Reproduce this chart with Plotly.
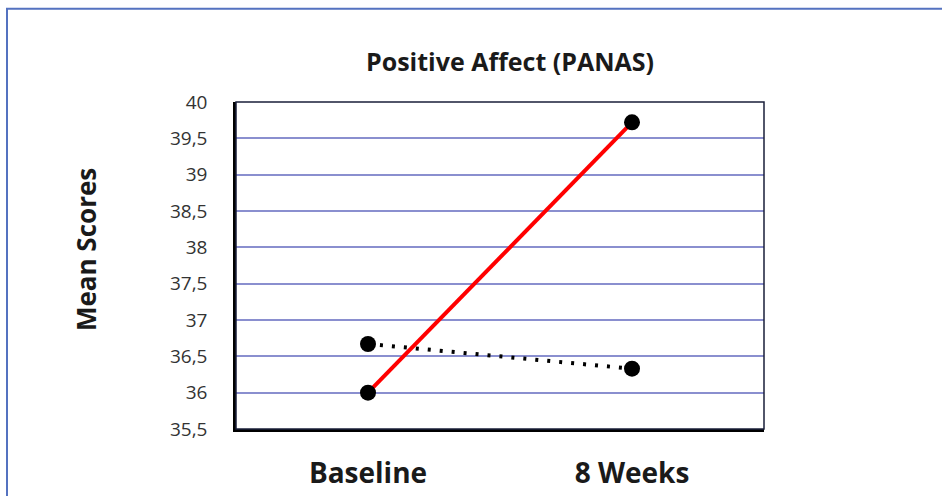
import plotly.graph_objects as go

categories = ["Baseline", "8 Weeks"]
series_a = [36.0, 39.72]   # red solid
series_b = [36.67, 36.33]  # black dotted
y_ticks = [35.5, 36, 36.5, 37, 37.5, 38, 38.5, 39, 39.5, 40]
y_tick_labels = ["35,5", "36", "36,5", "37", "37,5", "38", "38,5", "39", "39,5", "40"]

FONT = "Open Sans"

fig = go.Figure()
fig.add_trace(go.Scatter(
    x=categories, y=series_b, mode="lines+markers",
    line=dict(color="black", width=4, dash="3px,9px"),
    marker=dict(color="black", size=16),
    showlegend=False, cliponaxis=False))
fig.add_trace(go.Scatter(
    x=categories, y=series_a, mode="lines+markers",
    line=dict(color="#ff0000", width=4),
    marker=dict(color="black", size=16),
    showlegend=False, cliponaxis=False))

L, R, T, B = 236, 178, 101.5, 66.5
W, H = 942, 496

fig.update_layout(
    width=W, height=H,
    margin=dict(l=L, r=R, t=T, b=B),
    paper_bgcolor="white", plot_bgcolor="white",
    title=dict(text="<b>Positive Affect (PANAS)</b>", x=(510) / W, xanchor="center",
               y=1 - 62 / H, yanchor="middle", automargin=False,
               font=dict(family=FONT, size=25, color="#1a1a1a")),
    xaxis=dict(type="category", range=[-0.5, 1.5], showgrid=False, automargin=False,
               showline=True, linecolor="black", linewidth=2.5,
               tickfont=dict(family=FONT, size=28, color="#1a1a1a"),
               tickprefix="<b>", ticksuffix="</b>",
               ticks="", ticklabelstandoff=18),
    yaxis=dict(range=[35.5, 40], tickvals=y_ticks, ticktext=y_tick_labels,
               automargin=False,
               showgrid=True, gridcolor="#8a8fcf", gridwidth=1.5,
               showline=True, linecolor="black", linewidth=2.5,
               zeroline=False, ticks="", ticklabelstandoff=22,
               tickfont=dict(family=FONT, size=19, color="#333333")),
    shapes=[
        dict(type="rect", xref="paper", yref="paper", x0=0, x1=1, y0=0, y1=1,
             line=dict(color="#1a1f3a", width=1.5), layer="above"),
        dict(type="rect", xref="paper", yref="paper",
             x0=-(L - 7) / (W - L - R), x1=1 + (R + 20) / (W - L - R),
             y0=-(B + 20) / (H - T - B), y1=1 + (T - 8) / (H - T - B),
             line=dict(color="#5472c0", width=2)),
    ],
    annotations=[
        dict(text="<b>Mean Scores</b>", xref="paper", yref="paper",
             x=-(L - 86) / (W - L - R), y=1 - (250 - T) / (H - T - B),
             xanchor="center", yanchor="middle", textangle=-90, showarrow=False,
             font=dict(family=FONT, size=26, color="#1a1a1a")),
    ],
)

fig.write_html("out.html")
